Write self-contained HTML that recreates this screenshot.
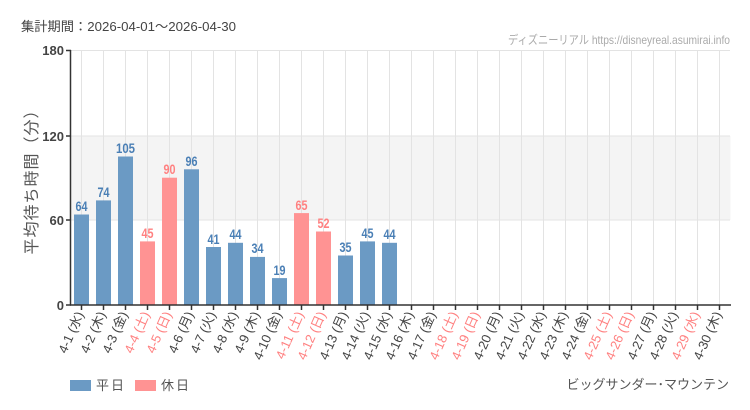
<!DOCTYPE html>
<html><head><meta charset="utf-8"><style>
body{margin:0;background:#fff}
svg{display:block;font-family:"Liberation Sans","Noto Sans CJK JP",sans-serif}
.v{font-family:"Liberation Sans",sans-serif;font-size:14px;text-anchor:middle;font-weight:bold}
.xl text{font-size:13px;text-anchor:end;fill:#444}
.xl text.h{fill:#ff8080}
</style></head><body>
<svg width="750" height="410" viewBox="0 0 750 410">
<rect width="750" height="410" fill="#fff"/>
<text x="21" y="31" font-size="13" fill="#444" textLength="215" lengthAdjust="spacingAndGlyphs">集計期間：2026-04-01～2026-04-30</text>
<text x="730" y="44" font-size="12" fill="#aaa" text-anchor="end" textLength="222" lengthAdjust="spacingAndGlyphs">ディズニーリアル https://disneyreal.asumirai.info</text>
<rect x="70.5" y="136" width="660" height="84" fill="#f4f4f4"/>
<g stroke="#e3e3e3" stroke-width="1">
<line x1="70" y1="50.5" x2="730" y2="50.5"/><line x1="70" y1="136" x2="730" y2="136"/><line x1="70" y1="220" x2="730" y2="220"/>
<path d="M81.5 50V305M103.5 50V305M125.5 50V305M147.5 50V305M169.5 50V305M191.5 50V305M213.5 50V305M235.5 50V305M257.5 50V305M279.5 50V305M301.5 50V305M323.5 50V305M345.5 50V305M367.5 50V305M389.5 50V305M411.5 50V305M433.5 50V305M455.5 50V305M477.5 50V305M499.5 50V305M521.5 50V305M543.5 50V305M565.5 50V305M587.5 50V305M609.5 50V305M631.5 50V305M653.5 50V305M675.5 50V305M697.5 50V305M719.5 50V305"/>
</g>
<g fill="#6b9ac4">
<rect x="74" y="214.5" width="15" height="90.5"/>
<rect x="96" y="200.4" width="15" height="104.6"/>
<rect x="118" y="156.5" width="15" height="148.5"/>
<rect x="184" y="169.3" width="15" height="135.7"/>
<rect x="206" y="247" width="15" height="58"/>
<rect x="228" y="242.8" width="15" height="62.2"/>
<rect x="250" y="256.9" width="15" height="48.1"/>
<rect x="272" y="278.1" width="15" height="26.9"/>
<rect x="338" y="255.5" width="15" height="49.5"/>
<rect x="360" y="241.4" width="15" height="63.6"/>
<rect x="382" y="242.8" width="15" height="62.2"/>
</g>
<g fill="#ff9393">
<rect x="140" y="241.4" width="15" height="63.6"/>
<rect x="162" y="177.7" width="15" height="127.3"/>
<rect x="294" y="213.1" width="15" height="91.9"/>
<rect x="316" y="231.5" width="15" height="73.5"/>
</g>
<g class="v" fill="#4a7fb5">
<text x="81.5" y="211" textLength="12" lengthAdjust="spacingAndGlyphs">64</text><text x="103.5" y="197" textLength="12" lengthAdjust="spacingAndGlyphs">74</text><text x="125.5" y="153" textLength="19" lengthAdjust="spacingAndGlyphs">105</text>
<text x="191.5" y="166" textLength="12" lengthAdjust="spacingAndGlyphs">96</text><text x="213.5" y="244" textLength="12" lengthAdjust="spacingAndGlyphs">41</text><text x="235.5" y="239" textLength="12" lengthAdjust="spacingAndGlyphs">44</text>
<text x="257.5" y="253" textLength="12" lengthAdjust="spacingAndGlyphs">34</text><text x="279.5" y="275" textLength="12" lengthAdjust="spacingAndGlyphs">19</text><text x="345.5" y="252" textLength="12" lengthAdjust="spacingAndGlyphs">35</text>
<text x="367.5" y="238" textLength="12" lengthAdjust="spacingAndGlyphs">45</text><text x="389.5" y="239" textLength="12" lengthAdjust="spacingAndGlyphs">44</text>
</g>
<g class="v" fill="#ff8080">
<text x="147.5" y="238" textLength="12" lengthAdjust="spacingAndGlyphs">45</text><text x="169.5" y="174" textLength="12" lengthAdjust="spacingAndGlyphs">90</text><text x="301.5" y="210" textLength="12" lengthAdjust="spacingAndGlyphs">65</text><text x="323.5" y="228" textLength="12" lengthAdjust="spacingAndGlyphs">52</text>
</g>
<g stroke="#333" stroke-width="1.5">
<line x1="70.5" y1="50" x2="70.5" y2="305"/>
<line x1="70" y1="305" x2="731" y2="305"/>
<path d="M66 50.5H71M66 136H71M66 220H71M66 305H71"/>
<path d="M81.5 305V310M103.5 305V310M125.5 305V310M147.5 305V310M169.5 305V310M191.5 305V310M213.5 305V310M235.5 305V310M257.5 305V310M279.5 305V310M301.5 305V310M323.5 305V310M345.5 305V310M367.5 305V310M389.5 305V310M411.5 305V310M433.5 305V310M455.5 305V310M477.5 305V310M499.5 305V310M521.5 305V310M543.5 305V310M565.5 305V310M587.5 305V310M609.5 305V310M631.5 305V310M653.5 305V310M675.5 305V310M697.5 305V310M719.5 305V310"/>
</g>
<g font-size="13" fill="#444" text-anchor="end" font-weight="bold">
<text x="64" y="55">180</text><text x="64" y="141">120</text><text x="64" y="225">60</text><text x="64" y="310">0</text>
</g>
<text transform="translate(37,178) rotate(-90)" font-size="16" fill="#555" text-anchor="middle" letter-spacing="1">平均待ち時間（分）</text>
<g class="xl">
<text transform="translate(84,314) rotate(-66)">4-1 (水)</text>
<text transform="translate(106,314) rotate(-66)">4-2 (木)</text>
<text transform="translate(128,314) rotate(-66)">4-3 (金)</text>
<text class="h" transform="translate(150,314) rotate(-66)">4-4 (土)</text>
<text class="h" transform="translate(172,314) rotate(-66)">4-5 (日)</text>
<text transform="translate(194,314) rotate(-66)">4-6 (月)</text>
<text transform="translate(216,314) rotate(-66)">4-7 (火)</text>
<text transform="translate(238,314) rotate(-66)">4-8 (水)</text>
<text transform="translate(260,314) rotate(-66)">4-9 (木)</text>
<text transform="translate(282,314) rotate(-66)">4-10 (金)</text>
<text class="h" transform="translate(304,314) rotate(-66)">4-11 (土)</text>
<text class="h" transform="translate(326,314) rotate(-66)">4-12 (日)</text>
<text transform="translate(348,314) rotate(-66)">4-13 (月)</text>
<text transform="translate(370,314) rotate(-66)">4-14 (火)</text>
<text transform="translate(392,314) rotate(-66)">4-15 (水)</text>
<text transform="translate(414,314) rotate(-66)">4-16 (木)</text>
<text transform="translate(436,314) rotate(-66)">4-17 (金)</text>
<text class="h" transform="translate(458,314) rotate(-66)">4-18 (土)</text>
<text class="h" transform="translate(480,314) rotate(-66)">4-19 (日)</text>
<text transform="translate(502,314) rotate(-66)">4-20 (月)</text>
<text transform="translate(524,314) rotate(-66)">4-21 (火)</text>
<text transform="translate(546,314) rotate(-66)">4-22 (水)</text>
<text transform="translate(568,314) rotate(-66)">4-23 (木)</text>
<text transform="translate(590,314) rotate(-66)">4-24 (金)</text>
<text class="h" transform="translate(612,314) rotate(-66)">4-25 (土)</text>
<text class="h" transform="translate(634,314) rotate(-66)">4-26 (日)</text>
<text transform="translate(656,314) rotate(-66)">4-27 (月)</text>
<text transform="translate(678,314) rotate(-66)">4-28 (火)</text>
<text class="h" transform="translate(700,314) rotate(-66)">4-29 (水)</text>
<text transform="translate(722,314) rotate(-66)">4-30 (木)</text>
</g>
<rect x="70" y="380" width="21" height="11" fill="#6b9ac4"/>
<text x="96" y="390" font-size="13" fill="#555" letter-spacing="2">平日</text>
<rect x="135" y="380" width="21" height="11" fill="#ff9393"/>
<text x="161" y="390" font-size="13" fill="#555" letter-spacing="2">休日</text>
<text x="729" y="389" font-size="13" fill="#555" text-anchor="end">ビッグサンダー･マウンテン</text>
</svg>
</body></html>
